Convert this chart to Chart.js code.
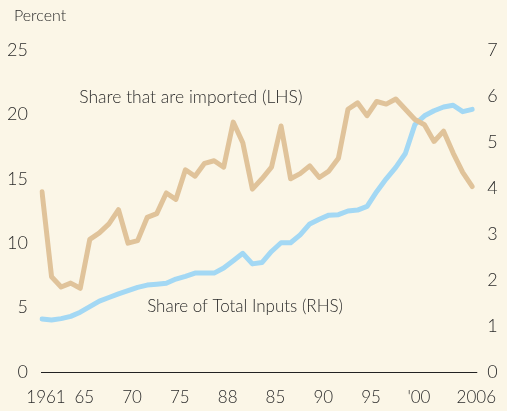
<!DOCTYPE html>
<html>
<head>
<meta charset="utf-8">
<script src="https://cdn.jsdelivr.net/npm/chart.js@4"></script>
<style>
  html, body { margin: 0; padding: 0; background: #fbf6e7; }
  canvas { display: block; }
</style>
</head>
<body>
<canvas id="c" width="507" height="411"></canvas>
<script>
const years = [];
for (let y = 1961; y <= 2006; y++) years.push(String(y));

const tickLabels = { "1961": "1961", "1965": "65", "1970": "70", "1975": "75", "1980": "88",
  "1985": "85", "1990": "90", "1995": "95", "2000": "'00", "2006": "2006" };

const importedShareLHS = [14.0, 7.4, 6.6, 6.9, 6.5, 10.3, 10.8, 11.5, 12.6, 10.0,
  10.2, 12.0, 12.3, 13.9, 13.4, 15.7, 15.2, 16.2, 16.4, 15.9,
  19.4, 17.8, 14.2, 15.0, 15.9, 19.1, 15.0, 15.4, 16.0, 15.1,
  15.6, 16.6, 20.4, 20.9, 19.9, 21.0, 20.8, 21.2, 20.4, 19.6,
  19.2, 17.9, 18.7, 17.0, 15.5, 14.4];

const totalInputsShareRHS = [1.15, 1.13, 1.16, 1.21, 1.3, 1.42, 1.54, 1.62, 1.7, 1.77,
  1.84, 1.89, 1.91, 1.93, 2.02, 2.08, 2.15, 2.15, 2.15, 2.26,
  2.42, 2.58, 2.35, 2.38, 2.62, 2.81, 2.81, 2.98, 3.22, 3.32,
  3.41, 3.42, 3.5, 3.52, 3.6, 3.92, 4.2, 4.45, 4.75, 5.38,
  5.57, 5.68, 5.76, 5.8, 5.66, 5.71];

const TXT = '#2b2b2b';
const FONT = 'Lato, "Open Sans", sans-serif';

const overlay = {
  id: 'overlay',
  afterDatasetsDraw(chart) {
    const ctx = chart.ctx;
    const x = chart.scales.x, yl = chart.scales.yL, yr = chart.scales.yR;
    ctx.save();
    ctx.strokeStyle = '#222';
    ctx.lineWidth = 1;
    ctx.beginPath();
    const y0 = Math.round(yl.getPixelForValue(0)) + 0.5;
    ctx.moveTo(chart.chartArea.left - 1, y0);
    ctx.lineTo(chart.chartArea.right + 5, y0);
    ctx.stroke();
    ctx.fillStyle = TXT;
    ctx.font = '300 16px ' + FONT;
    ctx.textBaseline = 'middle';
    ctx.textAlign = 'left';
    ctx.fillText('Percent', 14, 16);
    ctx.font = '300 17.5px ' + FONT;
    ctx.fillText('Share that are imported (LHS)', x.getPixelForValue(3.9), yl.getPixelForValue(21.3));
    ctx.font = '300 17px ' + FONT;
    ctx.fillText('Share of Total Inputs (RHS)', x.getPixelForValue(11.0), yr.getPixelForValue(1.42));
    ctx.restore();
  }
};

new Chart(document.getElementById('c'), {
  type: 'line',
  data: {
    labels: years,
    datasets: [
      { label: 'Share that are imported (LHS)', data: importedShareLHS, yAxisID: 'yL',
        borderColor: '#e0c39a', borderWidth: 5, pointRadius: 0, tension: 0,
        borderJoinStyle: 'round', borderCapStyle: 'round' },
      { label: 'Share of Total Inputs (RHS)', data: totalInputsShareRHS, yAxisID: 'yR',
        borderColor: '#a3d8f4', borderWidth: 5, pointRadius: 0, tension: 0,
        borderJoinStyle: 'round', borderCapStyle: 'round' }
    ]
  },
  options: {
    responsive: false,
    animation: false,
    layout: { padding: { top: 50, left: 0, right: 0, bottom: 0 } },
    plugins: { legend: { display: false }, tooltip: { enabled: false } },
    scales: {
      x: {
        type: 'category', offset: false,
        grid: { display: false, drawTicks: false },
        border: { display: false },
        afterFit(s) { s.height = 39; },
        ticks: {
          autoSkip: false, maxRotation: 0, padding: 15, labelOffset: 4, color: TXT,
          font: { family: FONT, size: 17, weight: 300 },
          callback(v) { const l = this.getLabelForValue(v); return tickLabels[l] || null; }
        }
      },
      yL: {
        position: 'left', min: 0, max: 25,
        grid: { display: false, drawTicks: false },
        border: { display: false },
        afterFit(s) { s.width = 42; },
        ticks: { stepSize: 5, padding: 14, color: TXT, font: { family: FONT, size: 18, weight: 300 } }
      },
      yR: {
        position: 'right', min: 0, max: 7,
        grid: { display: false, drawTicks: false },
        border: { display: false },
        afterFit(s) { s.width = 25; },
        ticks: { stepSize: 1, padding: 15, color: TXT, font: { family: FONT, size: 18, weight: 300 } }
      }
    }
  },
  plugins: [overlay]
});
</script>
</body>
</html>
